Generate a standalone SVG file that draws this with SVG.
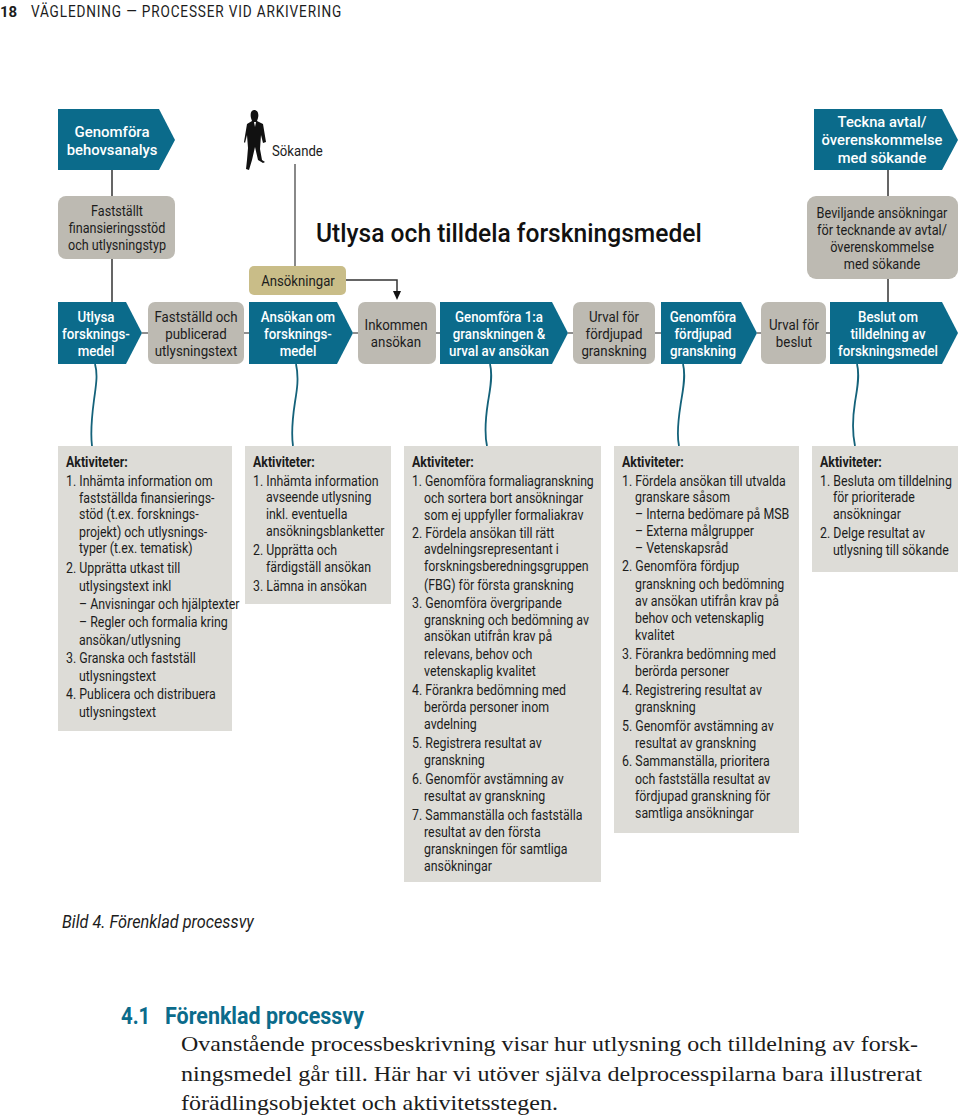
<svg xmlns="http://www.w3.org/2000/svg" width="960" height="1118" viewBox="0 0 960 1118">
<style>
text{font-family:"Roboto","Noto Sans",sans-serif;font-size:14px;fill:#1c1c1c}
.c{text-anchor:middle}
.w{fill:#fff;font-weight:500}
.t{fill:#0b6b8b}
.g{fill:#bdbab2}
.l{fill:#dddcd7}
.b{fill:#c9bd88}
.k{fill:none;stroke:#333;stroke-width:1.5}
.m{fill:none;stroke:#6b6b6b;stroke-width:1.6}
.q{fill:none;stroke:#14627a;stroke-width:1.8}
.a{font-weight:700}
.s{font-family:"Liberation Serif",serif;font-size:22px}
</style>
<rect width="960" height="1118" fill="#fff"/>
<g id="header">
<text x="0" y="17" style="font-size:15px;font-weight:700">18</text>
<text transform="translate(31 17) scale(.85 1)" style="font-size:16px" textLength="365">VÄGLEDNING — PROCESSER VID ARKIVERING</text>
</g>
<g id="connectors">
<path class="k" d="M112 170V196M112 259V302M888 170V196M888 279V302"/>
<path class="m" d="M295 164V266"/>
<path class="k" d="M346 280H397V292"/>
<path d="M393 291H401L397 300Z" fill="#111"/>
<path class="m" d="M142 333H148M244 333H249M353 333H358M436 333H440M568 333H573M655 333H661M757 333H761M826 333H830"/>
<path class="q" d="M95 364C98 375 96 385 94 400C92 415 90 430 92 446M296 364C299 378 297 390 295 402C293 415 291 432 293 446M490 364C493 376 490 390 488 402C486 415 484 432 487 446M683 364C686 376 683 390 681 402C679 415 676 432 679 446M857 364C860 376 857 390 855 402C853 415 852 432 855 446"/>
</g>
<g id="n1"><path class="t" d="M58 109H159L175 140L159 170H58Z"/><text class="c w" transform="translate(112 137) scale(1.07 1)">Genomföra</text><text class="c w" transform="translate(112 155) scale(1.06 1)">behovsanalys</text></g>
<g id="person"><path fill="#111" d="M254 110C258 110 259 114 258 118L257 121L263 124L266 142L263 143L261 135L260 149L262 160L265 162L263 163L258 160L255 147L252 160L249 170L246 169L247 160L248 148L247 135L245 143L244 142L247 124L252 121L251 118C250 114 251 110 254 110Z"/><path fill="#fff" d="M254 122L256 122L255 127Z"/><text transform="translate(272 156) scale(.94 1)">Sökande</text></g>
<g id="n3"><path class="t" d="M814 109H942L958 140L942 170H814Z"/><text class="c w" transform="translate(882 127) scale(.95 1)" style="font-size:15.5px">Teckna avtal/</text><text class="c w" transform="translate(882 145) scale(.95 1)" style="font-size:15.5px">överenskommelse</text><text class="c w" transform="translate(882 163) scale(.95 1)" style="font-size:15.5px">med sökande</text></g>
<g id="n4"><rect class="g" x="58" y="196" width="117" height="63" rx="8"/><text class="c" transform="translate(117 216) scale(.9 1)">Fastställt</text><text class="c" transform="translate(117 233) scale(.9 1)">finansieringsstöd</text><text class="c" transform="translate(117 250) scale(.9 1)">och utlysningstyp</text></g>
<g id="n5"><rect class="b" x="249" y="266" width="97" height="29" rx="5"/><text class="c" transform="translate(298 286) scale(.94 1)">Ansökningar</text></g>
<g id="title"><text transform="translate(316 242) scale(.946 1)" style="font-size:26px;font-weight:500;fill:#111">Utlysa och tilldela forskningsmedel</text></g>
<g id="n6"><rect class="g" x="807" y="196" width="151" height="83" rx="9"/><text class="c" transform="translate(882 218) scale(.91 1)">Beviljande ansökningar</text><text class="c" transform="translate(882 235) scale(.91 1)">för tecknande av avtal/</text><text class="c" transform="translate(882 252) scale(.91 1)">överenskommelse</text><text class="c" transform="translate(882 269) scale(.91 1)">med sökande</text></g>
<g id="n7"><path class="t" d="M58 302H126L142 333L126 364H58Z"/><text class="c w" transform="translate(96 322) scale(.95 1)">Utlysa</text><text class="c w" transform="translate(96 339) scale(.95 1)">forsknings-</text><text class="c w" transform="translate(96 356) scale(.95 1)">medel</text></g>
<g id="n8"><rect class="g" x="148" y="302" width="96" height="62" rx="7"/><text class="c" transform="translate(196 322) scale(.95 1)">Fastställd och</text><text class="c" transform="translate(196 339) scale(.95 1)">publicerad</text><text class="c" transform="translate(196 356) scale(.95 1)">utlysningstext</text></g>
<g id="n9"><path class="t" d="M249 302H337L353 333L337 364H249Z"/><text class="c w" transform="translate(298 322) scale(.95 1)">Ansökan om</text><text class="c w" transform="translate(298 339) scale(.95 1)">forsknings-</text><text class="c w" transform="translate(298 356) scale(.95 1)">medel</text></g>
<g id="n10"><rect class="g" x="358" y="302" width="78" height="62" rx="7"/><text class="c" transform="translate(396 330) scale(.95 1)">Inkommen</text><text class="c" transform="translate(396 347) scale(.95 1)">ansökan</text></g>
<g id="n11"><path class="t" d="M440 302H552L568 333L552 364H440Z"/><text class="c w" transform="translate(499 322) scale(.95 1)">Genomföra 1:a</text><text class="c w" transform="translate(499 339) scale(.95 1)">granskningen &amp;</text><text class="c w" transform="translate(499 356) scale(.95 1)">urval av ansökan</text></g>
<g id="n12"><rect class="g" x="573" y="302" width="82" height="62" rx="7"/><text class="c" transform="translate(614 322) scale(.95 1)">Urval för</text><text class="c" transform="translate(614 339) scale(.95 1)">fördjupad</text><text class="c" transform="translate(614 356) scale(.95 1)">granskning</text></g>
<g id="n13"><path class="t" d="M661 302H741L757 333L741 364H661Z"/><text class="c w" transform="translate(703 322) scale(.95 1)">Genomföra</text><text class="c w" transform="translate(703 339) scale(.95 1)">fördjupad</text><text class="c w" transform="translate(703 356) scale(.95 1)">granskning</text></g>
<g id="n14"><rect class="g" x="761" y="302" width="65" height="62" rx="7"/><text class="c" transform="translate(794 330) scale(.95 1)">Urval för</text><text class="c" transform="translate(794 347) scale(.95 1)">beslut</text></g>
<g id="n15"><path class="t" d="M830 302H942L958 333L942 364H830Z"/><text class="c w" transform="translate(888 322) scale(.95 1)">Beslut om</text><text class="c w" transform="translate(888 339) scale(.95 1)">tilldelning av</text><text class="c w" transform="translate(888 356) scale(.95 1)">forskningsmedel</text></g>
<g id="b1"><rect class="l" x="58" y="446" width="174" height="285"/>
<text class="a" transform="translate(66 467) scale(.885 1)">Aktiviteter:</text>
<text transform="translate(66 486) scale(.885 1)">1. Inhämta information om</text>
<text transform="translate(79 503) scale(.885 1)">fastställda finansierings-</text>
<text transform="translate(79 519) scale(.885 1)">stöd (t.ex. forsknings-</text>
<text transform="translate(79 537) scale(.885 1)">projekt) och utlysnings-</text>
<text transform="translate(79 553) scale(.885 1)">typer (t.ex. tematisk)</text>
<text transform="translate(66 573) scale(.885 1)">2. Upprätta utkast till</text>
<text transform="translate(79 591) scale(.885 1)">utlysingstext inkl</text>
<text transform="translate(79 609) scale(.885 1)">– Anvisningar och hjälptexter</text>
<text transform="translate(79 627) scale(.885 1)">– Regler och formalia kring</text>
<text transform="translate(79 645) scale(.885 1)">ansökan/utlysning</text>
<text transform="translate(66 663) scale(.885 1)">3. Granska och fastställ</text>
<text transform="translate(79 681) scale(.885 1)">utlysningstext</text>
<text transform="translate(66 699) scale(.885 1)">4. Publicera och distribuera</text>
<text transform="translate(79 717) scale(.885 1)">utlysningstext</text></g>
<g id="b2"><rect class="l" x="245" y="446" width="146" height="158"/>
<text class="a" transform="translate(253 467) scale(.885 1)">Aktiviteter:</text>
<text transform="translate(253 486) scale(.885 1)">1. Inhämta information</text>
<text transform="translate(266 502) scale(.885 1)">avseende utlysning</text>
<text transform="translate(266 519) scale(.885 1)">inkl. eventuella</text>
<text transform="translate(266 536) scale(.885 1)">ansökningsblanketter</text>
<text transform="translate(253 555) scale(.885 1)">2. Upprätta och</text>
<text transform="translate(266 572) scale(.885 1)">färdigställ ansökan</text>
<text transform="translate(253 591) scale(.885 1)">3. Lämna in ansökan</text></g>
<g id="b3"><rect class="l" x="404" y="446" width="197" height="436"/>
<text class="a" transform="translate(412 467) scale(.885 1)">Aktiviteter:</text>
<text transform="translate(412 486) scale(.87 1)">1. Genomföra formaliagranskning</text>
<text transform="translate(424 503) scale(.885 1)">och sortera bort ansökningar</text>
<text transform="translate(424 520) scale(.885 1)">som ej uppfyller formaliakrav</text>
<text transform="translate(412 538) scale(.885 1)">2. Fördela ansökan till rätt</text>
<text transform="translate(424 554) scale(.885 1)">avdelningsrepresentant i</text>
<text transform="translate(424 571) scale(.885 1)">forskningsberedningsgruppen</text>
<text transform="translate(424 590) scale(.885 1)">(FBG) för första granskning</text>
<text transform="translate(412 608) scale(.885 1)">3. Genomföra övergripande</text>
<text transform="translate(424 625) scale(.885 1)">granskning och bedömning av</text>
<text transform="translate(424 641) scale(.885 1)">ansökan utifrån krav på</text>
<text transform="translate(424 659) scale(.885 1)">relevans, behov och</text>
<text transform="translate(424 676) scale(.885 1)">vetenskaplig kvalitet</text>
<text transform="translate(412 695) scale(.885 1)">4. Förankra bedömning med</text>
<text transform="translate(424 712) scale(.885 1)">berörda personer inom</text>
<text transform="translate(424 729) scale(.885 1)">avdelning</text>
<text transform="translate(412 748) scale(.885 1)">5. Registrera resultat av</text>
<text transform="translate(424 765) scale(.885 1)">granskning</text>
<text transform="translate(412 784) scale(.885 1)">6. Genomför avstämning av</text>
<text transform="translate(424 801) scale(.885 1)">resultat av granskning</text>
<text transform="translate(412 820) scale(.885 1)">7. Sammanställa och fastställa</text>
<text transform="translate(424 837) scale(.885 1)">resultat av den första</text>
<text transform="translate(424 854) scale(.885 1)">granskningen för samtliga</text>
<text transform="translate(424 871) scale(.885 1)">ansökningar</text></g>
<g id="b4"><rect class="l" x="614" y="446" width="185" height="387"/>
<text class="a" transform="translate(622 467) scale(.885 1)">Aktiviteter:</text>
<text transform="translate(622 486) scale(.885 1)">1. Fördela ansökan till utvalda</text>
<text transform="translate(635 502) scale(.885 1)">granskare såsom</text>
<text transform="translate(635 519) scale(.885 1)">– Interna bedömare på MSB</text>
<text transform="translate(635 536) scale(.885 1)">– Externa målgrupper</text>
<text transform="translate(635 553) scale(.885 1)">– Vetenskapsråd</text>
<text transform="translate(622 571) scale(.885 1)">2. Genomföra fördjup</text>
<text transform="translate(635 589) scale(.885 1)">granskning och bedömning</text>
<text transform="translate(635 606) scale(.885 1)">av ansökan utifrån krav på</text>
<text transform="translate(635 623) scale(.885 1)">behov och vetenskaplig</text>
<text transform="translate(635 640) scale(.885 1)">kvalitet</text>
<text transform="translate(622 659) scale(.885 1)">3. Förankra bedömning med</text>
<text transform="translate(635 676) scale(.885 1)">berörda personer</text>
<text transform="translate(622 695) scale(.885 1)">4. Registrering resultat av</text>
<text transform="translate(635 712) scale(.885 1)">granskning</text>
<text transform="translate(622 731) scale(.885 1)">5. Genomför avstämning av</text>
<text transform="translate(635 748) scale(.885 1)">resultat av granskning</text>
<text transform="translate(622 766) scale(.885 1)">6. Sammanställa, prioritera</text>
<text transform="translate(635 784) scale(.885 1)">och fastställa resultat av</text>
<text transform="translate(635 801) scale(.885 1)">fördjupad granskning för</text>
<text transform="translate(635 818) scale(.885 1)">samtliga ansökningar</text></g>
<g id="b5"><rect class="l" x="812" y="446" width="146" height="126"/>
<text class="a" transform="translate(820 467) scale(.885 1)">Aktiviteter:</text>
<text transform="translate(820 486) scale(.885 1)">1. Besluta om tilldelning</text>
<text transform="translate(833 502) scale(.885 1)">för prioriterade</text>
<text transform="translate(833 519) scale(.885 1)">ansökningar</text>
<text transform="translate(820 538) scale(.885 1)">2. Delge resultat av</text>
<text transform="translate(833 555) scale(.885 1)">utlysning till sökande</text></g>
<g id="footer">
<text transform="translate(62 928) scale(.905 1)" style="font-size:18px;font-style:italic">Bild 4. Förenklad processvy</text>
<text transform="translate(121 1024) scale(.85 1)" style="font-size:24px;font-weight:700;fill:#0b6b8b">4.1</text>
<text x="165" y="1024" style="font-size:24px;font-weight:700;fill:#0b6b8b" textLength="199" lengthAdjust="spacingAndGlyphs">Förenklad processvy</text>
<text class="s" x="181" y="1051" textLength="737" lengthAdjust="spacingAndGlyphs">Ovanstående processbeskrivning visar hur utlysning och tilldelning av forsk-</text>
<text class="s" x="181" y="1081" textLength="741" lengthAdjust="spacingAndGlyphs">ningsmedel går till. Här har vi utöver själva delprocesspilarna bara illustrerat</text>
<text class="s" x="181" y="1110" textLength="377" lengthAdjust="spacingAndGlyphs">förädlingsobjektet och aktivitetsstegen.</text>
</g>
</svg>
